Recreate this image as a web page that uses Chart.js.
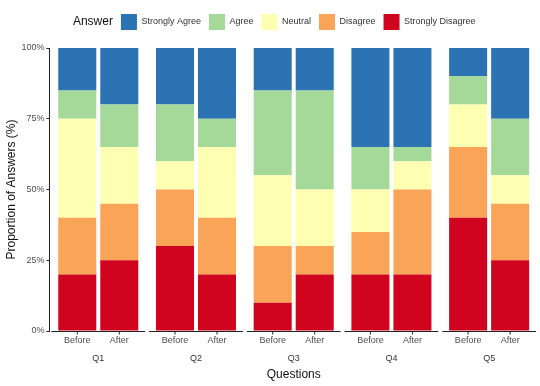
<!DOCTYPE html>
<html>
<head>
<meta charset="utf-8">
<script src="https://cdn.jsdelivr.net/npm/chart.js@4"></script>
<style>
  html, body { margin: 0; padding: 0; background: #fff; }
  #wrap { width: 540px; height: 386px; }
</style>
</head>
<body>
<div id="wrap"><canvas id="likertChart"></canvas></div>
<script>
// Questões e fases
const questions = ['Q1', 'Q2', 'Q3', 'Q4', 'Q5'];
const phases = ['Before', 'After'];
const answers = ['Strongly Disagree', 'Disagree', 'Neutral', 'Agree', 'Strongly Agree'];
const answerColors = ['#d0041e', '#faa458', '#ffffb2', '#a5d99a', '#2c73b4'];
const yTicks = [0, 25, 50, 75, 100];

// Percentuais por resposta (Q1..Q5)
const stronglyDisagreeBefore = [20, 30, 10, 20, 40];
const stronglyDisagreeAfter  = [25, 20, 20, 20, 25];
const disagreeBefore = [20, 20, 20, 15, 25];
const disagreeAfter  = [20, 20, 10, 30, 20];
const neutralBefore = [35, 10, 25, 15, 15];
const neutralAfter  = [20, 25, 20, 10, 10];
const agreeBefore = [10, 20, 30, 15, 10];
const agreeAfter  = [15, 10, 35, 5, 20];
const stronglyAgreeBefore = [15, 20, 15, 35, 10];
const stronglyAgreeAfter  = [20, 25, 15, 35, 25];

const beforeSeries = [stronglyDisagreeBefore, disagreeBefore, neutralBefore, agreeBefore, stronglyAgreeBefore];
const afterSeries = [stronglyDisagreeAfter, disagreeAfter, neutralAfter, agreeAfter, stronglyAgreeAfter];

const FONT = "'Liberation Sans', Arial, sans-serif";

// before primeiro para que a pilha "Before" fique à esquerda
const datasets = [];
answers.forEach((a, i) => {
  datasets.push({ label: a, data: beforeSeries[i], backgroundColor: answerColors[i], stack: phases[0] });
});
answers.forEach((a, i) => {
  datasets.push({ label: a, data: afterSeries[i], backgroundColor: answerColors[i], stack: phases[1] });
});

// eixo x separado por painel + rótulos Before/After
const facetAxis = {
  id: 'facetAxis',
  afterInit(chart) {
    // um pouco mais de espaço abaixo da legenda
    const lg = chart.legend;
    const fit = lg.fit;
    lg.fit = function () { fit.call(this); this.height += 8; };
  },
  afterDatasetsDraw(chart) {
    const { ctx, chartArea, scales } = chart;
    const x = scales.x;
    const catW = (x.right - x.left) / questions.length;
    const yLine = chartArea.bottom + 0.5;
    ctx.save();
    ctx.strokeStyle = '#222';
    ctx.lineWidth = 1;
    questions.forEach((q, i) => {
      const c = x.getPixelForTick(i);
      ctx.beginPath();
      ctx.moveTo(c - catW / 2 + 2, yLine);
      ctx.lineTo(c + catW / 2 - 2, yLine);
      ctx.stroke();
    });
    ctx.font = '9px ' + FONT;
    ctx.fillStyle = '#4d4d4d';
    ctx.textAlign = 'center';
    ctx.textBaseline = 'middle';
    [0, answers.length].forEach((dsIdx, p) => {
      const meta = chart.getDatasetMeta(dsIdx);
      meta.data.forEach(bar => {
        ctx.beginPath();
        ctx.moveTo(bar.x, yLine);
        ctx.lineTo(bar.x, yLine + 3);
        ctx.stroke();
        ctx.fillText(phases[p], bar.x, chartArea.bottom + 10);
      });
    });
    // título da legenda
    const hb = chart.legend.legendHitBoxes[0];
    if (hb) {
      ctx.font = '12px ' + FONT;
      ctx.fillStyle = '#111';
      ctx.textAlign = 'right';
      ctx.textBaseline = 'middle';
      ctx.fillText('Answer', hb.left + hb.width, hb.top + hb.height / 2);
    }
    ctx.restore();
  }
};

const chart = new Chart(document.getElementById('likertChart'), {
  type: 'bar',
  data: { labels: questions, datasets: datasets },
  plugins: [facetAxis],
  options: {
    responsive: true,
    maintainAspectRatio: false,
    animation: false,
    categoryPercentage: 0.86,
    barPercentage: 0.905,
    layout: { padding: { top: 6, right: 2, left: 0, bottom: 2 } },
    plugins: {
      tooltip: { enabled: false },
      legend: {
        position: 'top',
        labels: {
          boxWidth: 16,
          boxHeight: 16,
          padding: 8,
          color: '#333',
          font: { family: FONT, size: 9 },
          generateLabels(c) {
            const items = Chart.defaults.plugins.legend.labels.generateLabels(c)
              .filter(it => it.datasetIndex < answers.length)
              .reverse();
            items.unshift({
              text: 'Answer',
              fillStyle: 'rgba(0,0,0,0)',
              strokeStyle: 'rgba(0,0,0,0)',
              lineWidth: 0,
              fontColor: 'rgba(0,0,0,0)',
              hidden: false,
              datasetIndex: -1
            });
            return items;
          }
        }
      }
    },
    scales: {
      x: {
        stacked: true,
        grid: { display: false, drawTicks: false },
        border: { display: false },
        ticks: { padding: 22, color: '#333', font: { family: FONT, size: 9 } },
        title: { display: true, text: 'Questions', color: '#111', font: { family: FONT, size: 12 }, padding: { top: 2, bottom: 2 } },
        afterFit(axis) { axis.height = 53; }
      },
      y: {
        stacked: true,
        min: 0,
        max: 100,
        afterBuildTicks(axis) { axis.ticks = yTicks.map(v => ({ value: v })); },
        ticks: { callback: v => v + '%', color: '#4d4d4d', padding: 2, font: { family: FONT, size: 9 } },
        grid: { drawOnChartArea: false, drawTicks: true, tickLength: 3, color: '#222' },
        border: { display: true, color: '#222', width: 1 },
        title: { display: true, text: 'Proportion of Answers (%)', color: '#111', font: { family: FONT, size: 12 }, padding: { top: 4, bottom: 1 } }
      }
    }
  }
});
</script>
</body>
</html>
